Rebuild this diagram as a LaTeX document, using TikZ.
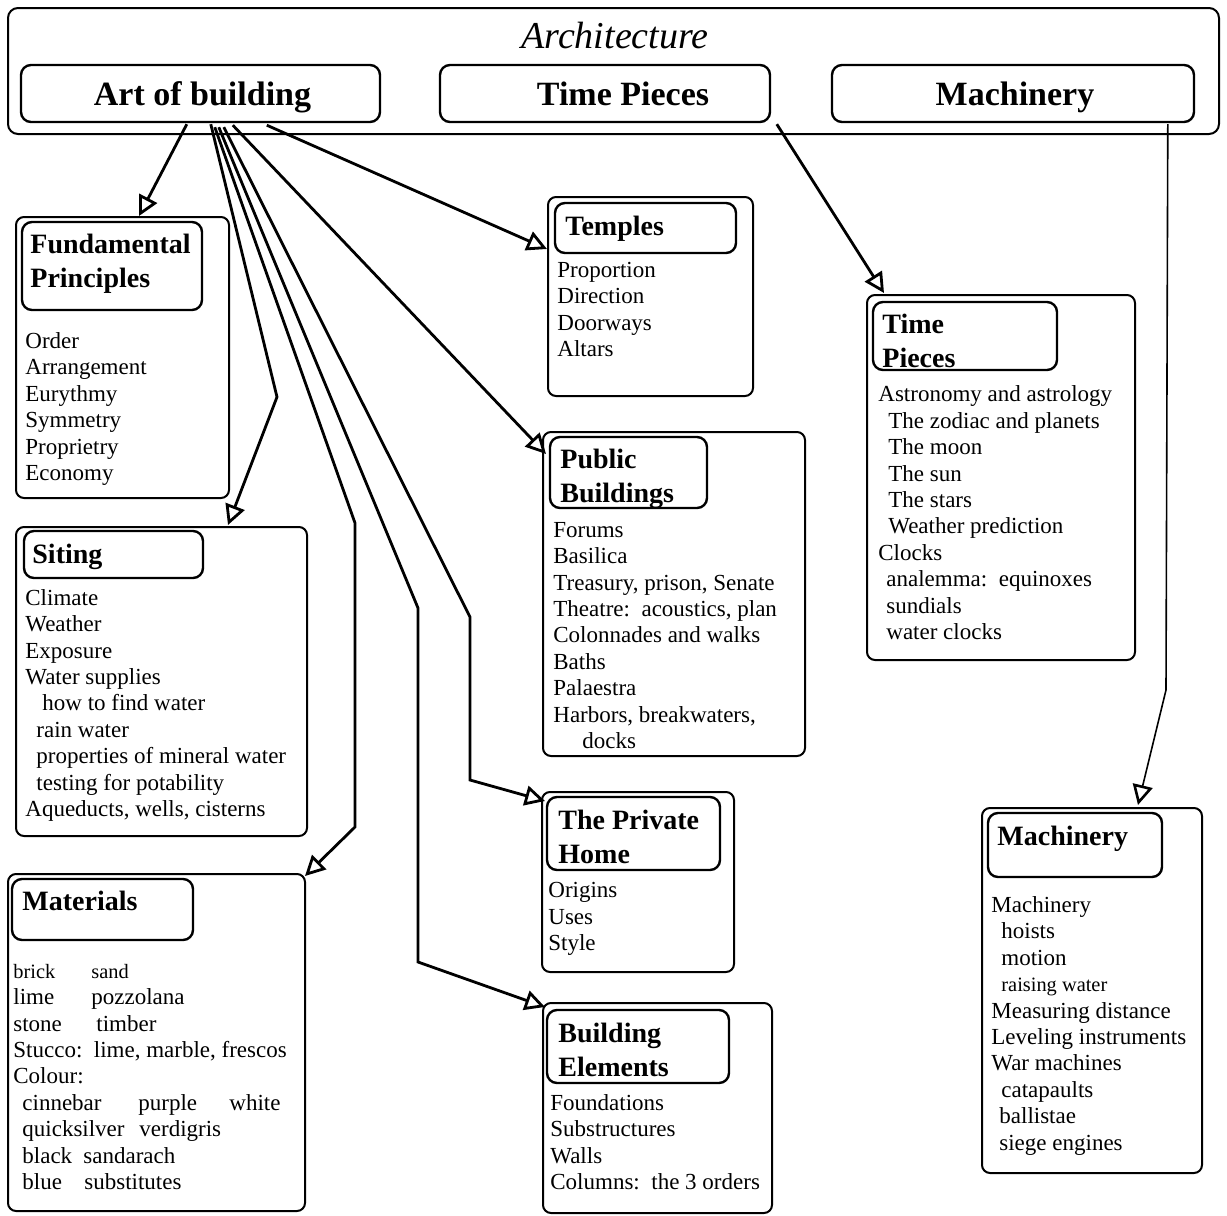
\documentclass[tikz,border=0pt]{standalone}
\usepackage{fontspec}
\setmainfont{Liberation Serif}
\usetikzlibrary{arrows.meta,fit,calc}
\begin{document}
\begin{tikzpicture}[x=0.5pt,y=-0.5pt,
  outerbox/.style={draw, line width=1pt, rounded corners=4pt, inner sep=0pt},
  titlebox/.style={draw, line width=1.2pt, rounded corners=5pt, inner sep=0pt},
  head/.style={font=\fontsize{14}{17}\selectfont\bfseries, anchor=base west, align=left, inner sep=0pt},
  body/.style={font=\fontsize{11.5}{13.2}\selectfont, anchor=base west, align=left, inner sep=0pt},
  topf/.style={font=\fontsize{17}{19}\selectfont\bfseries, anchor=base, inner sep=0pt},
  conn/.style={line width=1.4pt, -{Triangle[length=10pt,width=10pt,fill=white]}},
  thinconn/.style={line width=0.8pt, -{Triangle[length=10pt,width=10pt,fill=white,line width=1.3pt]}},
]
\useasboundingbox (0,0) rectangle (1227,1216);

% top
\node[outerbox, rounded corners=5pt, fit={(8,8) (1219,134)}] (arch) {};
\node[font=\fontsize{19}{21}\selectfont\itshape, anchor=base, inner sep=0pt] (archt) at (615,48) {Architecture};
\node[titlebox, fit={(21,65) (380,122)}] (ab) {};
\node[titlebox, fit={(440,65) (770,122)}] (tpc) {};
\node[titlebox, fit={(832,65) (1194,122)}] (mac) {};
\node[topf] (abl) at ($(ab.south)+(2,-18)$) {Art of building};
\node[topf] (tpcl) at ($(tpc.south)+(18,-18)$) {Time Pieces};
\node[topf] (macl) at ($(mac.south)+(2,-18)$) {Machinery};

% Fundamental Principles
\node[outerbox, fit={(16,217) (229,498)}] (fp) {};
\node[titlebox, fit={(22,222) (202,310)}] (fpt) {};
\node[head] (fph) at (30,287) {Fundamental\\Principles};
\node[body] (fpb) at (25,480.5) {Order\\Arrangement\\Eurythmy\\Symmetry\\Proprietry\\Economy};

% Siting
\node[outerbox, fit={(16,527) (307,836)}] (si) {};
\node[titlebox, fit={(24,531) (203,578)}] (sit) {};
\node[head] (sih) at (32,563) {Siting};
\node[body] (sib) at (25,816.5) {Climate\\Weather\\Exposure\\Water supplies\\\hspace*{8.5pt}how to find water\\\hspace*{5.5pt}rain water\\\hspace*{5.5pt}properties of mineral water\\\hspace*{5.5pt}testing for potability\\Aqueducts, wells, cisterns};

% Materials
\node[outerbox, fit={(8,874) (305,1211)}] (mat) {};
\node[titlebox, fit={(12,879) (193,940)}] (matt) {};
\node[head] (math) at (22,910) {Materials};
\node[body] (matb) at (13,1189.5) {\makebox[39pt][l]{\fontsize{10.2}{13.2}\selectfont brick}{\fontsize{10.2}{13.2}\selectfont sand}\\
\makebox[39pt][l]{lime}pozzolana\\
\makebox[41.5pt][l]{stone}timber\\
Stucco:\ \ lime, marble, frescos\\
Colour:\\
\hspace*{4.5pt}\makebox[58pt][l]{cinnebar}\makebox[45.5pt][l]{purple}white\\
\hspace*{4.5pt}\makebox[58.5pt][l]{quicksilver}verdigris\\
\hspace*{4.5pt}\makebox[30.5pt][l]{black}sandarach\\
\hspace*{4.5pt}\makebox[31pt][l]{blue}substitutes};

% Temples
\node[outerbox, fit={(548,197) (753,396)}] (te) {};
\node[titlebox, fit={(555,203) (736,253)}] (tet) {};
\node[head] (teh) at (565,235) {Temples};
\node[body] (teb) at (557,356.5) {Proportion\\Direction\\Doorways\\Altars};

% Public Buildings
\node[outerbox, fit={(543,432) (805,756)}] (pb) {};
\node[titlebox, fit={(550,437) (707,508)}] (pbt) {};
\node[head] (pbh) at (560,502) {Public\\Buildings};
\node[body] (pbb) at (553,748.5) {Forums\\Basilica\\Treasury, prison, Senate\\Theatre:\ \ acoustics, plan\\Colonnades and walks\\Baths\\Palaestra\\Harbors, breakwaters,\\\hspace*{14.5pt}docks};

% Private Home
\node[outerbox, fit={(542,792) (734,972)}] (ph) {};
\node[titlebox, fit={(547,797) (720,870)}] (pht) {};
\node[head] (phh) at (558,863) {The Private\\Home};
\node[body] (phb) at (548,950.5) {Origins\\Uses\\Style};

% Building Elements
\node[outerbox, fit={(543,1003) (772,1213)}] (be) {};
\node[titlebox, fit={(547,1010) (729,1083)}] (bet) {};
\node[head] (beh) at (558,1076) {Building\\Elements};
\node[body] (beb) at (550,1189.5) {Foundations\\Substructures\\Walls\\Columns:\ \ the 3 orders};

% Time Pieces
\node[outerbox, fit={(867,295) (1135,660)}] (tp) {};
\node[titlebox, fit={(873,302) (1057,370)}] (tpt) {};
\node[head] (tph) at (882,367) {Time\\Pieces};
\node[body] (tpb) at (878,639.5) {Astronomy and astrology\\\hspace*{5pt}The zodiac and planets\\\hspace*{5pt}The moon\\\hspace*{5pt}The sun\\\hspace*{5pt}The stars\\\hspace*{5pt}Weather prediction\\Clocks\\\hspace*{4pt}analemma:\ \ equinoxes\\\hspace*{4pt}sundials\\\hspace*{4pt}water clocks};

% Machinery
\node[outerbox, fit={(982,808) (1202,1173)}] (mc) {};
\node[titlebox, fit={(988,813) (1162,877)}] (mct) {};
\node[head] (mch) at (997,845) {Machinery};
\node[body] (mcb) at (991,1150) {Machinery\\\hspace*{5pt}hoists\\\hspace*{5pt}motion\\\hspace*{5pt}{\fontsize{10.2}{13.2}\selectfont raising water}\\Measuring distance\\Leveling instruments\\War machines\\\hspace*{5pt}catapaults\\\hspace*{4pt}ballistae\\\hspace*{4pt}siege engines};

% bends
\coordinate (s1) at (277,397);
\coordinate (m1) at (355,523);
\coordinate (m2) at (355,827);
\coordinate (e1) at (418,608);
\coordinate (e2) at (418,962);
\coordinate (h1) at (470,617);
\coordinate (h2) at (470,780);
\coordinate (k1) at (1166,690);

% connectors
\draw[conn] ($(ab.south west)+(167,1)$) -- ($(fp.north west)+(124,0)$);
\draw[conn] ($(ab.south west)+(191,1)$) -- (s1) -- ($(si.north west)+(213,-1)$);
\draw[conn] ($(ab.south west)+(195,4)$) -- (m1) -- (m2) -- ($(mat.north east)+(-1,3)$);
\draw[conn] ($(ab.south west)+(199,4)$) -- (e1) -- (e2) -- ($(be.north west)+(3,5)$);
\draw[conn] ($(ab.south west)+(204,4)$) -- (h1) -- (h2) -- ($(ph.north west)+(4,10)$);
\draw[conn] ($(ab.south west)+(213,2)$) -- ($(pb.north west)+(4,23)$);
\draw[conn] ($(ab.south west)+(247,2)$) -- ($(te.north west)+(0,53)$);
\draw[conn] ($(tpc.south west)+(338,1)$) -- ($(tp.north west)+(18,-1)$);
\draw[thinconn] ($(mac.south west)+(337,1)$) -- (k1) -- ($(mc.north west)+(157,-2)$);
\end{tikzpicture}
\end{document}
